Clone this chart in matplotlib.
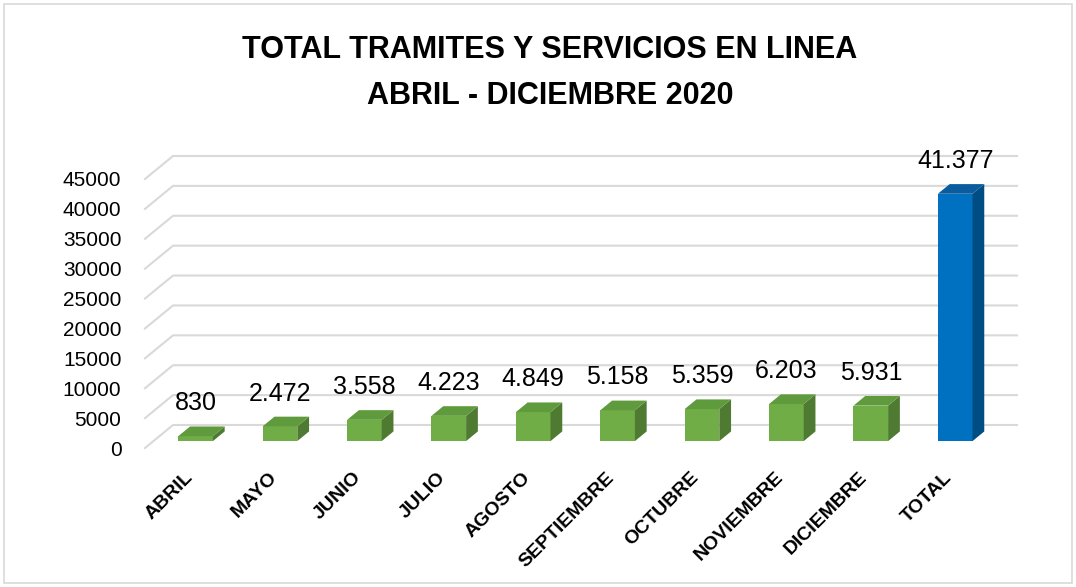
import matplotlib.pyplot as plt
from matplotlib.patches import Polygon, Rectangle

plt.rcParams['font.family'] = ['Liberation Sans', 'DejaVu Sans']

months = ['ABRIL', 'MAYO', 'JUNIO', 'JULIO', 'AGOSTO', 'SEPTIEMBRE',
          'OCTUBRE', 'NOVIEMBRE', 'DICIEMBRE', 'TOTAL']
values = [830, 2472, 3558, 4223, 4849, 5158, 5359, 6203, 5931, 41377]
yticks = [0, 5000, 10000, 15000, 20000, 25000, 30000, 35000, 40000, 45000]

green = ('#70AD47', '#4E7A31', '#5F9A3C')   # front, side, top
blue = ('#0070C0', '#004D84', '#0A5C9E')

fig = plt.figure(figsize=(10.76, 5.87), dpi=100)
fig.patches.append(Rectangle((0.004, 0.006), 0.992, 0.988, transform=fig.transFigure,
                             fill=False, edgecolor='#D9D9D9', lw=1.2))

ax = fig.add_axes([145 / 1076, (587 - 448) / 587, 844 / 1076, 269 / 587])
ax.set_xlim(-0.5, 9.5)
ax.set_ylim(0, 45000)
for s in ax.spines.values():
    s.set_visible(False)
ax.set_xticks([])
ax.set_yticks(yticks)
ax.tick_params(axis='y', length=0, pad=17, labelsize=15)

# depth of the fake 3d floor, in data units
DX = 28 / 84.4
DY = 23 * 45000 / 269

for v in yticks:
    ax.plot([-0.5, -0.5 + DX, 9.5 + DX], [v, v + DY, v + DY],
            color='#D9D9D9', lw=1.5, clip_on=False, zorder=1)

w = 0.41
f0, f1 = 0.3, 0.72
ddx, ddy = (f1 - f0) * DX, (f1 - f0) * DY
for i, v in enumerate(values):
    front, side, top = blue if months[i] == 'TOTAL' else green
    x0 = i - w / 2 + f0 * DX
    x1 = x0 + w
    y0 = f0 * DY
    y1 = v + f0 * DY
    ax.add_patch(Polygon([(x0, y0), (x1, y0), (x1, y1), (x0, y1)],
                         facecolor=front, edgecolor='none', clip_on=False, zorder=3))
    ax.add_patch(Polygon([(x1, y0), (x1 + ddx, y0 + ddy), (x1 + ddx, y1 + ddy), (x1, y1)],
                         facecolor=side, edgecolor='none', clip_on=False, zorder=3))
    ax.add_patch(Polygon([(x0, y1), (x1, y1), (x1 + ddx, y1 + ddy), (x0 + ddx, y1 + ddy)],
                         facecolor=top, edgecolor='none', clip_on=False, zorder=3))
    lbl = f'{v:,}'.replace(',', '.')
    ax.annotate(lbl, (i + f0 * DX, y1 + ddy), xytext=(0, 8), textcoords='offset points',
                ha='center', va='bottom', fontsize=18, zorder=4, annotation_clip=False)
    ax.text(i - 0.04, -3500, months[i], rotation=45, rotation_mode='anchor',
            ha='right', va='top', fontsize=14, fontweight='bold')

fig.text(0.511, 0.915, 'TOTAL TRAMITES Y SERVICIOS EN LINEA', ha='center', va='center',
         fontsize=22, fontweight='bold')
fig.text(0.511, 0.836, 'ABRIL - DICIEMBRE 2020', ha='center', va='center',
         fontsize=22, fontweight='bold')

fig.savefig('out.png', dpi=100)
